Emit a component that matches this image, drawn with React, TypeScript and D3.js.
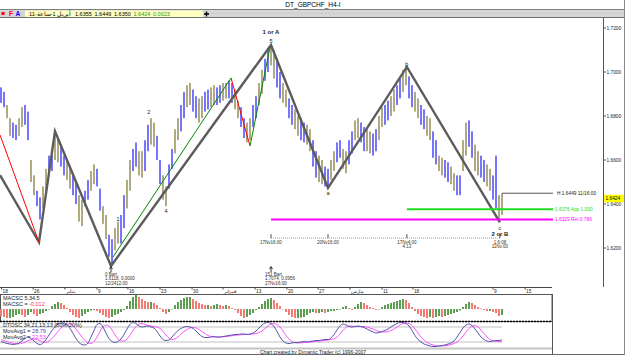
import React from "react";
import * as d3 from "d3";

// ---------- DATA ----------
const barHigh = [
  1.693, 1.691, 1.685, 1.679, 1.677, 1.676, 1.679, 1.684, 1.685, 1.682,
  1.66, 1.653, 1.646, 1.643, 1.648, 1.656, 1.662, 1.664, 1.671, 1.67,
  1.667, 1.662, 1.66, 1.657, 1.653, 1.65, 1.644, 1.642, 1.646, 1.651,
  1.655, 1.658, 1.656, 1.647, 1.639, 1.635, 1.626, 1.624, 1.629, 1.632,
  1.635, 1.644, 1.651, 1.66, 1.665, 1.668, 1.664, 1.664, 1.669, 1.676,
  1.679, 1.677, 1.671, 1.66, 1.653, 1.648, 1.658, 1.665, 1.674, 1.679,
  1.685, 1.691, 1.694, 1.695, 1.692, 1.689, 1.688, 1.689, 1.691, 1.692,
  1.693, 1.694, 1.693, 1.694, 1.695, 1.695, 1.696, 1.695, 1.692, 1.687,
  1.684, 1.679, 1.677, 1.679, 1.685, 1.689, 1.695, 1.701, 1.706, 1.711,
  1.712, 1.71, 1.706, 1.7, 1.695, 1.692, 1.688, 1.685, 1.683, 1.68,
  1.679, 1.677, 1.676, 1.674, 1.669, 1.664, 1.662, 1.66, 1.657, 1.656,
  1.66, 1.664, 1.668, 1.669, 1.665, 1.664, 1.669, 1.673, 1.678, 1.679,
  1.677, 1.675, 1.674, 1.673, 1.672, 1.674, 1.68, 1.684, 1.685, 1.687,
  1.689, 1.692, 1.694, 1.697, 1.701, 1.703, 1.698, 1.694, 1.691, 1.688,
  1.685, 1.683, 1.68, 1.679, 1.673, 1.669, 1.662, 1.661, 1.66, 1.659,
  1.657, 1.654, 1.653, 1.653, 1.669, 1.677, 1.678, 1.673, 1.667, 1.664,
  1.662, 1.66, 1.658, 1.656, 1.653, 1.662, 1.644, 1.6449,
];
const barLow = [
  1.686, 1.684, 1.679, 1.671, 1.67, 1.669, 1.671, 1.675, 1.676, 1.669,
  1.65, 1.644, 1.639, 1.633, 1.638, 1.646, 1.653, 1.655, 1.66, 1.659,
  1.657, 1.653, 1.651, 1.647, 1.644, 1.64, 1.632, 1.63, 1.639, 1.642,
  1.646, 1.649, 1.648, 1.637, 1.631, 1.624, 1.616, 1.612, 1.619, 1.622,
  1.622, 1.629, 1.638, 1.646, 1.655, 1.657, 1.653, 1.652, 1.655, 1.664,
  1.667, 1.666, 1.66, 1.649, 1.642, 1.639, 1.647, 1.656, 1.663, 1.669,
  1.673, 1.679, 1.684, 1.685, 1.682, 1.679, 1.677, 1.679, 1.682, 1.683,
  1.684, 1.685, 1.685, 1.686, 1.687, 1.688, 1.688, 1.686, 1.683, 1.679,
  1.675, 1.67, 1.668, 1.669, 1.675, 1.679, 1.685, 1.69, 1.696, 1.7,
  1.703, 1.697, 1.693, 1.688, 1.686, 1.684, 1.679, 1.676, 1.674, 1.671,
  1.669, 1.668, 1.667, 1.664, 1.657, 1.652, 1.65, 1.649, 1.648, 1.647,
  1.651, 1.655, 1.659, 1.661, 1.656, 1.654, 1.658, 1.663, 1.669, 1.67,
  1.668, 1.664, 1.664, 1.663, 1.662, 1.664, 1.669, 1.675, 1.676, 1.678,
  1.68, 1.682, 1.685, 1.688, 1.691, 1.694, 1.688, 1.684, 1.682, 1.679,
  1.676, 1.674, 1.671, 1.669, 1.661, 1.658, 1.655, 1.653, 1.652, 1.65,
  1.649, 1.646, 1.644, 1.644, 1.655, 1.662, 1.666, 1.661, 1.655, 1.653,
  1.652, 1.65, 1.648, 1.646, 1.642, 1.638, 1.632, 1.635,
];
const macdHist = [
  -0.014, -0.016, -0.018, -0.018, -0.016, -0.012, -0.01, -0.012, -0.016, -0.012,
  -0.006, -0.01, -0.014, -0.01, -0.008, -0.004, 0.0, 0.006, 0.01, 0.014,
  0.012, 0.008, 0.002, -0.006, -0.012, -0.016, -0.018, -0.014, -0.01, -0.006,
  -0.003, -0.002, -0.004, -0.008, -0.012, -0.016, -0.018, -0.016, -0.012, -0.01,
  -0.006, -0.002, 0.006, 0.016, 0.024, 0.028, 0.024, 0.02, 0.016, 0.014,
  0.014, 0.012, 0.008, 0.002, -0.006, -0.01, -0.006, 0.0, 0.008, 0.014,
  0.018, 0.022, 0.024, 0.024, 0.02, 0.016, 0.012, 0.01, 0.008, 0.008,
  0.006, 0.008, 0.01, 0.008, 0.006, 0.008, 0.006, 0.002, -0.002, -0.008,
  -0.014, -0.018, -0.016, -0.012, -0.008, -0.002, 0.004, 0.01, 0.016, 0.02,
  0.022, 0.018, 0.012, 0.006, 0.0, -0.006, -0.012, -0.016, -0.018, -0.018,
  -0.017, -0.016, -0.012, -0.008, -0.006, -0.008, -0.008, -0.006, -0.008, -0.006,
  -0.004, -0.004, -0.002, 0.0, 0.004, 0.006, 0.002, -0.002, 0.004, 0.01,
  0.014, 0.012, 0.008, 0.004, 0.002, -0.002, 0.0, 0.004, 0.008, 0.01,
  0.012, 0.014, 0.016, 0.018, 0.02, 0.018, 0.012, 0.004, -0.004, -0.01,
  -0.014, -0.016, -0.018, -0.016, -0.018, -0.016, -0.014, -0.016, -0.014, -0.012,
  -0.01, -0.008, -0.006, -0.003, 0.004, 0.01, 0.014, 0.012, 0.008, 0.004,
  0.001, -0.002, -0.004, -0.004, -0.006, -0.008, -0.014, -0.012,
];
const oscMA1 = [
  22, 18, 14, 12, 10, 12, 16, 24, 34, 40,
  34, 24, 14, 10, 16, 30, 48, 66, 82, 92,
  96, 96, 90, 74, 54, 34, 18, 10, 8, 16,
  40, 66, 90, 94, 80, 56, 34, 22, 18, 22,
  32, 50, 72, 90, 98, 94, 84, 80, 82, 84,
  80, 76, 62, 44, 30, 26, 28, 40, 54, 66,
  74, 80, 82, 80, 74, 64, 52, 42, 38, 38,
  40, 42, 40, 40, 42, 44, 46, 48, 50, 50,
  52, 52, 50, 52, 56, 64, 76, 88, 96, 98,
  94, 82, 62, 40, 24, 16, 14, 16, 18, 18,
  20, 22, 20, 22, 24, 26, 26, 28, 30, 30,
  36, 50, 68, 84, 92, 88, 82, 80, 82, 84,
  82, 78, 72, 66, 60, 56, 58, 62, 66, 72,
  80, 88, 94, 98, 98, 94, 84, 66, 46, 30,
  20, 12, 8, 4, 2, 2, 4, 6, 8, 12,
  16, 24, 40, 58, 76, 88, 92, 86, 72, 56,
  40, 30, 24, 22, 24, 26, 26, 28.79,
];
const oscMA2 = [
  30, 26, 22, 18, 15, 13, 13, 15, 19, 25,
  30, 32, 30, 25, 20, 19, 24, 34, 48, 62,
  76, 86, 92, 92, 86, 72, 56, 40, 26, 16,
  14, 22, 40, 62, 80, 88, 84, 68, 48, 32,
  24, 24, 32, 48, 66, 82, 92, 94, 90, 86,
  84, 82, 80, 74, 62, 48, 36, 30, 32, 40,
  52, 62, 70, 76, 78, 76, 70, 62, 54, 46,
  42, 40, 40, 40, 41, 42, 43, 45, 47, 48,
  49, 50, 51, 51, 52, 54, 58, 64, 74, 84,
  92, 94, 90, 80, 64, 46, 32, 22, 17, 16,
  17, 18, 19, 20, 21, 22, 24, 25, 26, 28,
  30, 32, 40, 52, 66, 78, 84, 84, 82, 82,
  82, 82, 80, 76, 72, 66, 62, 60, 60, 62,
  66, 72, 80, 88, 94, 96, 94, 86, 72, 56,
  40, 28, 18, 12, 8, 5, 4, 4, 5, 7,
  10, 14, 20, 30, 44, 60, 74, 84, 86, 80,
  68, 54, 40, 30, 25, 23, 22, 22.53,
];

const dateTickIdx = [0.2, 10.7, 21.3, 32, 42.3, 53, 63.7, 74, 84.7, 95.3, 105.7, 116.3, 127, 137.3, 164, 174.7];
const dateTickLabels = ["18", "26", "يناير", "9", "16", "23", "30", "فبراير", "13", "20", "27", "مارس", "11", "18", "9", "15"];
const priceTicks = [1.62, 1.64, 1.66, 1.68, 1.7, 1.72];

const zigIdx = [-0.33, 12.67, 18, 36.67, 90, 109, 135.3, 166.3];
const zigPrice = [1.6531, 1.6226, 1.6731, 1.6118, 1.7123, 1.6473, 1.7023, 1.6317];
const redSegs = [
  [-0.33, 1.6714, 12.67, 1.6226],
  [76.67, 1.6973, 83, 1.6664],
];
const greenSegs = [
  [37.3, 1.6158, 76.67, 1.6973],
  [83, 1.6664, 89.7, 1.7114],
];
const waveIdx = [39, 49.3, 55, 90, 90, 109, 135.3, 166.3, 166.3];
const wavePrice = [1.6332, 1.6818, 1.6368, 1.714, 1.7182, 1.645, 1.7036, 1.629, 1.6262];
const waveText = ["1", "2", "4", "5", "1 or A", "a", "b", "c", "2 or B"];
const waveBold = [false, false, false, false, true, false, false, false, true];

const levelPrice = [1.6449, 1.6376, 1.6329];
const levelStartIdx = [167, 135.3, 90];
const levelLabel = ["H 1.6449 11/16:00", "1.6376 App 1.000", "1.6329 Ret 0.786"];
const levelColor = ["#555555", "#22dd22", "#ff00ff"];
const levelWidth = [1, 2, 2];
const levelEndIdx = 184;

const timeLinePrice = 1.6245;
const timeIdx = [90, 109, 135.3, 166.3];
const timeLabel1 = ["17Nv16:00", "20Nv16:00", "17Nv4:00", "1.6:08"];
const timeLabel2 = ["", "", "4.13", "11Nv:00"];

const pivotIdx = [36.67, 90];
const pivotLine1 = ["0 Bart", "151 Bart"];
const pivotLine2 = ["1.6118, 0.0000", "1.7074, 0.0956"];
const pivotLine3 = ["12/2412:00", "27Nv16:00"];

const lastPrice = 1.6424;
const toolbarLabel = "11-أبريل 1-ساعة";
const toolbarValues = ["1.6355", "1.6449", "1.6350", "1.6424", "0.0023"];

const FONT = "'Liberation Sans', Arial, sans-serif";

export default function App() {
  const x = d3.scaleLinear().domain([0, 167]).range([1, 502]);
  const y = d3.scaleLinear().domain([1.62, 1.72]).range([248, 28]);
  const ym = d3.scaleLinear().domain([-0.03, 0.03]).range([324, 294]);
  const yo = d3.scaleLinear().domain([0, 100]).range([347, 322]);

  const zigLine = d3
    .line<number>()
    .x((_, i) => x(zigIdx[i]))
    .y((d) => y(d))(zigPrice) as string;
  const osc1Line = d3
    .line<number>()
    .x((_, i) => x(i))
    .y((d) => yo(d))
    .curve(d3.curveMonotoneX)(oscMA1) as string;
  const osc2Line = d3
    .line<number>()
    .x((_, i) => x(i))
    .y((d) => yo(d))
    .curve(d3.curveMonotoneX)(oscMA2) as string;

  const blue = "#6666ff";
  const olive = "#a8a170";

  return (
    <svg
      width={625}
      height={355}
      style={{ position: "absolute", left: 0, top: 0, background: "#fff" }}
      fontFamily={FONT}
    >
      <defs>
        <clipPath id="main">
          <rect x={0} y={18} width={603} height={269} />
        </clipPath>
        <clipPath id="macd">
          <rect x={0} y={294} width={552} height={27} />
        </clipPath>
        <clipPath id="osc">
          <rect x={0} y={321} width={552} height={27} />
        </clipPath>
        <pattern id="dots" width={4} height={4} patternUnits="userSpaceOnUse">
          <rect width={4} height={4} fill="#d6d6d6" />
          <rect x={1} y={1} width={1} height={1} fill="#b8b8b8" />
        </pattern>
      </defs>

      {/* title bar */}
      <rect x={0} y={0} width={625} height={355} fill="#ffffff" />
      <text x={313} y={7} fontSize={6.5} textAnchor="middle" fill="#000">
        DT_GBPCHF_H4-I
      </text>
      <line x1={0} x2={625} y1={9.5} y2={9.5} stroke="#808080" />
      <rect x={0} y={10} width={625} height={7} fill="url(#dots)" />
      <line x1={0} x2={625} y1={17.5} y2={17.5} stroke="#707070" />
      <rect x={1.5} y={12} width={3} height={3} fill="#ff0000" />
      <text x={9} y={16} fontSize={6.5} fontWeight="bold" fill="#ff0000">F</text>
      <text x={15.5} y={16} fontSize={6.5} fontWeight="bold" fill="#0000ff">A</text>
      <rect x={25} y={10.5} width={178} height={6.5} fill="#ffffc4" />
      <text x={29} y={15.8} fontSize={5.5} fill="#000">
        {toolbarLabel}
      </text>
      {toolbarValues.map((v, i) => (
        <text key={i} x={75 + i * 19.5} y={15.8} fontSize={5.5} fill={i >= 3 ? "#1a9a1a" : "#000"}>
          {v}
        </text>
      ))}
      <path d="M206.5,11.5v5M204,14h5" stroke="#000" strokeWidth={1.4} />

      {/* main chart */}
      <g clipPath="url(#main)">
        {barHigh.map((h, i) => (
          <rect
            key={i}
            x={x(i) - 0.9}
            y={y(h)}
            width={1.8}
            height={Math.max(1, y(barLow[i]) - y(h))}
            fill={Math.floor(i / 2) % 2 === 0 ? blue : olive}
          />
        ))}
        <path d={zigLine} fill="none" stroke="#5c5c5c" strokeWidth={2.4} strokeLinejoin="miter" />
        {redSegs.map((s, i) => (
          <line key={"r" + i} x1={x(s[0])} y1={y(s[1])} x2={x(s[2])} y2={y(s[3])} stroke="#ff0000" strokeWidth={1} />
        ))}
        {greenSegs.map((s, i) => (
          <line key={"g" + i} x1={x(s[0])} y1={y(s[1])} x2={x(s[2])} y2={y(s[3])} stroke="#008800" strokeWidth={1} />
        ))}
        {levelPrice.map((p, i) => (
          <line
            key={"l" + i}
            x1={x(levelStartIdx[i])}
            x2={x(levelEndIdx)}
            y1={y(p)}
            y2={y(p)}
            stroke={levelColor[i]}
            strokeWidth={levelWidth[i]}
          />
        ))}
        {/* time line */}
        <line
          x1={x(timeIdx[0])}
          x2={x(timeIdx[timeIdx.length - 1])}
          y1={y(timeLinePrice)}
          y2={y(timeLinePrice)}
          stroke="#999"
          strokeDasharray="1,1"
        />
        {timeIdx.map((t, i) => (
          <g key={"t" + i}>
            <line x1={x(t)} x2={x(t)} y1={y(timeLinePrice) - 4} y2={y(timeLinePrice)} stroke="#555" />
            <text x={x(t)} y={y(timeLinePrice) + 5.5} fontSize={4.5} textAnchor="middle" fill="#333">
              {timeLabel1[i]}
            </text>
            {timeLabel2[i] && (
              <text x={x(t)} y={y(timeLinePrice) + 10} fontSize={4.5} textAnchor="middle" fill="#333">
                {timeLabel2[i]}
              </text>
            )}
          </g>
        ))}
        {waveText.map((t, i) => (
          <text
            key={"w" + i}
            x={x(waveIdx[i])}
            y={y(wavePrice[i])}
            dy="0.35em"
            fontSize={waveBold[i] ? 6 : 5.5}
            fontWeight={waveBold[i] ? "bold" : "normal"}
            textAnchor="middle"
            fill="#222"
          >
            {t}
          </text>
        ))}
        {pivotIdx.map((p, i) => (
          <g key={"p" + i}>
            <line x1={x(p)} x2={x(p)} y1={267} y2={272} stroke="#333" />
            <path d={`M${x(p) - 1.5},269 L${x(p)},266.5 L${x(p) + 1.5},269`} fill="none" stroke="#333" />
            <text x={x(p) - 6} y={275.5} fontSize={4.5} fill="#333">{pivotLine1[i]}</text>
            <text x={x(p) - 6} y={280} fontSize={4.5} fill="#333">{pivotLine2[i]}</text>
            <text x={x(p) - 6} y={284.5} fontSize={4.5} fill="#333">{pivotLine3[i]}</text>
          </g>
        ))}
      </g>
      {levelLabel.map((l, i) => (
        <text
          key={"ll" + i}
          x={x(levelEndIdx) + (i === 0 ? 4 : 2)}
          y={y(levelPrice[i])}
          dy="0.35em"
          fontSize={4.8}
          fill={i === 0 ? "#222" : levelColor[i]}
        >
          {l}
        </text>
      ))}

      {/* right price axis */}
      <line x1={603.5} x2={603.5} y1={18} y2={287} stroke="#555" />
      {priceTicks.map((p, i) => (
        <g key={"pt" + i}>
          <line x1={603.5} x2={606} y1={y(p)} y2={y(p)} stroke="#555" />
          <text x={606.5} y={y(p)} dy="0.35em" fontSize={4.8} fill="#222">
            {p.toFixed(4)}
          </text>
        </g>
      ))}
      <rect x={604} y={y(lastPrice) - 4} width={20} height={7.5} fill="#ffff00" />
      <text x={605.5} y={y(lastPrice)} dy="0.35em" fontSize={4.8} fill="#000">
        {lastPrice.toFixed(4)}
      </text>

      {/* date axis */}
      <line x1={0} x2={552} y1={287.5} y2={287.5} stroke="#444" />
      {dateTickIdx.map((t, i) => (
        <g key={"d" + i}>
          <line x1={x(t)} x2={x(t)} y1={287.5} y2={289.5} stroke="#444" />
          <text x={x(t) + 1} y={293} fontSize={4.8} fill="#222">
            {dateTickLabels[i]}
          </text>
        </g>
      ))}

      {/* MACD panel */}
      <rect x={0.5} y={294.5} width={551.5} height={27} fill="#fff" stroke="#555" />
      <g clipPath="url(#macd)">
        {macdHist.map((v, i) => (
          <rect
            key={"m" + i}
            x={x(i) - 1}
            y={Math.min(ym(v), ym(0))}
            width={2}
            height={Math.max(0.5, Math.abs(ym(v) - ym(0)))}
            fill={i > 0 && v >= macdHist[i - 1] ? "#5e9e52" : "#f27c74"}
          />
        ))}
      </g>
      <text x={3} y={300} fontSize={5.5} fill="#222">MACSC 5,34,5</text>
      <text x={3} y={305.5} fontSize={5.5} fill="#222">
        MACSC = <tspan fill="#ff3030">-0.012</tspan>
      </text>
      <line x1={0} x2={552} y1={321.5} y2={321.5} stroke="#000" strokeWidth={1.5} strokeDasharray="2,1" />

      {/* DTOSC panel */}
      <line x1={0} x2={x(167)} y1={yo(80)} y2={yo(80)} stroke="#b0b0b0" strokeWidth={0.8} />
      <line x1={0} x2={x(167)} y1={yo(20)} y2={yo(20)} stroke="#b0b0b0" strokeWidth={0.8} />
      <g clipPath="url(#osc)">
        <path d={osc2Line} fill="none" stroke="#ff55ff" strokeWidth={1} />
        <path d={osc1Line} fill="none" stroke="#5555a8" strokeWidth={1} />
      </g>
      <text x={3} y={327} fontSize={5.5} fill="#222">DTOSC 34,21,13,13 (80%-20%)</text>
      <text x={3} y={333} fontSize={5.5} fill="#222">
        MovAvg1 = <tspan fill="#4848a8">{oscMA1[oscMA1.length - 1].toFixed(2)}</tspan>
      </text>
      <text x={3} y={339} fontSize={5.5} fill="#222">
        MovAvg2 = <tspan fill="#ff33ff">{oscMA2[oscMA2.length - 1].toFixed(2)}</tspan>
      </text>
      <rect x={0} y={347.5} width={552} height={2} fill="#c4c4c4" />
      <line x1={552.5} x2={552.5} y1={294} y2={354} stroke="#555" />
      <text x={313} y={353.5} fontSize={5} textAnchor="middle" fill="#222">
        Chart created by Dynamic Trader (c) 1996-2007
      </text>
      <line x1={0} x2={625} y1={354.5} y2={354.5} stroke="#666" />
      <line x1={624.5} x2={624.5} y1={0} y2={355} stroke="#888" />
    </svg>
  );
}
